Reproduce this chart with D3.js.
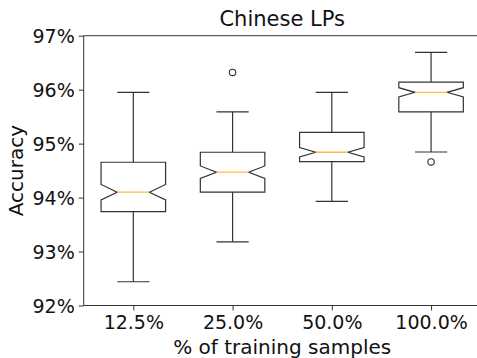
<!DOCTYPE html>
<html>
<head>
<meta charset="utf-8">
<script src="https://d3js.org/d3.v7.min.js"></script>
<style>
  body { margin: 0; background: #fff; }
  text { font-family: "DejaVu Sans", sans-serif; fill: #111; }
</style>
</head>
<body>
<div id="chart-area"></div>
<script>
// values
var categories = ['12.5%', '25.0%', '50.0%', '100.0%'];
var q1 = [93.74, 94.10, 94.665, 95.59];
var medians = [94.10, 94.47, 94.84, 95.95];
var q3 = [94.655, 94.84, 95.21, 96.14];
var whiskerLow = [92.44, 93.18, 93.93, 94.845];
var whiskerHigh = [95.95, 95.59, 95.95, 96.69];
var outliers = [[], [96.32], [], [94.66]];
var sampleSize = 100; // used for the notch (median +/- 1.57 * IQR / sqrt(n))
var yTicks = [92, 93, 94, 95, 96, 97];

var W = 477, H = 358;
var margin = {top: 35.7, left: 83.7, right: -3.7, bottom: 52.5};
var width = W - margin.left - margin.right;
var height = H - margin.top - margin.bottom;
var boxWidth = 0.65;

var svg = d3.select('#chart-area')
  .append('svg')
    .attr('width', W)
    .attr('height', H)
  .append('g')
    .attr('transform', 'translate(' + margin.left + ',' + margin.top + ')');

var x = d3.scaleLinear()
  .domain([0.5, 4.5])
  .range([0, width]);
var y = d3.scaleLinear()
  .domain([92, 97])
  .range([height, 0]);

var data = categories.map(function(c, i) {
  var iqr = q3[i] - q1[i];
  var n = 1.57 * iqr / Math.sqrt(sampleSize);
  return {
    cat: c, pos: i + 1, q1: q1[i], med: medians[i], q3: q3[i],
    lo: whiskerLow[i], hi: whiskerHigh[i], fliers: outliers[i],
    nlo: medians[i] - n, nhi: medians[i] + n
  };
});

// Axes
var xAxisCall = d3.axisBottom(x)
  .tickValues([1, 2, 3, 4])
  .tickSize(5)
  .tickPadding(5)
  .tickFormat(function(d) { return categories[d - 1]; });
var xAxis = svg.append('g')
  .attr('transform', 'translate(0,' + height + ')')
  .call(xAxisCall);

var yAxisCall = d3.axisLeft(y)
  .tickValues(yTicks)
  .tickSize(5)
  .tickPadding(4)
  .tickFormat(function(d) { return d + '%'; });
var yAxis = svg.append('g').call(yAxisCall);

[xAxis, yAxis].forEach(function(a) {
  a.select('.domain').remove();
  a.selectAll('line').attr('stroke', '#333').attr('stroke-width', 1);
  a.selectAll('text')
    .attr('font-size', '19px')
    .attr('font-family', '"DejaVu Sans", sans-serif')
    .attr('fill', '#111');
});
yAxis.selectAll('text').attr('dy', '0.36em');
xAxis.selectAll('text').attr('dy', '0.72em');

// spines (right one falls off the canvas)
svg.append('path')
  .attr('d', 'M' + width + ',0H0V' + height + 'H' + width)
  .attr('fill', 'none')
  .attr('stroke', '#333')
  .attr('stroke-width', 1);

// Boxes
var boxes = svg.selectAll('.box').data(data).enter().append('g')
  .attr('class', 'box');

boxes.append('path')
  .attr('fill', 'none')
  .attr('stroke', '#333')
  .attr('stroke-width', 1.2)
  .attr('d', function(d) {
    var l = x(d.pos - boxWidth / 2), r = x(d.pos + boxWidth / 2);
    var il = x(d.pos - boxWidth / 4), ir = x(d.pos + boxWidth / 4);
    return 'M' + l + ',' + y(d.q1) +
      'L' + l + ',' + y(d.nlo) +
      'L' + il + ',' + y(d.med) +
      'L' + l + ',' + y(d.nhi) +
      'L' + l + ',' + y(d.q3) +
      'L' + r + ',' + y(d.q3) +
      'L' + r + ',' + y(d.nhi) +
      'L' + ir + ',' + y(d.med) +
      'L' + r + ',' + y(d.nlo) +
      'L' + r + ',' + y(d.q1) + 'Z';
  });

// whiskers
boxes.append('line')
  .attr('x1', function(d) { return x(d.pos); })
  .attr('x2', function(d) { return x(d.pos); })
  .attr('y1', function(d) { return y(d.q3); })
  .attr('y2', function(d) { return y(d.hi); });
boxes.append('line')
  .attr('x1', function(d) { return x(d.pos); })
  .attr('x2', function(d) { return x(d.pos); })
  .attr('y1', function(d) { return y(d.q1); })
  .attr('y2', function(d) { return y(d.lo); });
// caps
['hi', 'lo'].forEach(function(k) {
  boxes.append('line')
    .attr('x1', function(d) { return x(d.pos - boxWidth / 4); })
    .attr('x2', function(d) { return x(d.pos + boxWidth / 4); })
    .attr('y1', function(d) { return y(d[k]); })
    .attr('y2', function(d) { return y(d[k]); });
});
boxes.selectAll('line')
  .attr('stroke', '#333')
  .attr('stroke-width', 1.2);

// medians
boxes.append('line')
  .attr('x1', function(d) { return x(d.pos - boxWidth / 4); })
  .attr('x2', function(d) { return x(d.pos + boxWidth / 4); })
  .attr('y1', function(d) { return y(d.med); })
  .attr('y2', function(d) { return y(d.med); })
  .attr('stroke', '#ffb940')
  .attr('stroke-width', 1.3);

// fliers
boxes.selectAll('circle')
  .data(function(d) { return d.fliers.map(function(v) { return {pos: d.pos, v: v}; }); })
  .enter().append('circle')
    .attr('cx', function(d) { return x(d.pos); })
    .attr('cy', function(d) { return y(d.v); })
    .attr('r', 3.2)
    .attr('fill', 'none')
    .attr('stroke', '#333')
    .attr('stroke-width', 1.1);

// Labels
svg.append('text')
  .attr('x', (x(0.5) + x(4.5)) / 2)
  .attr('y', -9.5)
  .attr('font-size', '21px')
  .attr('text-anchor', 'middle')
  .text('Chinese LPs');

svg.append('text')
  .attr('x', (x(0.5) + x(4.5)) / 2)
  .attr('y', height + 48.5)
  .attr('font-size', '20px')
  .attr('text-anchor', 'middle')
  .text('% of training samples');

svg.append('text')
  .attr('x', -height / 2)
  .attr('y', 23 - margin.left)
  .attr('font-size', '20px')
  .attr('text-anchor', 'middle')
  .attr('transform', 'rotate(-90)')
  .text('Accuracy');
</script>
</body>
</html>
